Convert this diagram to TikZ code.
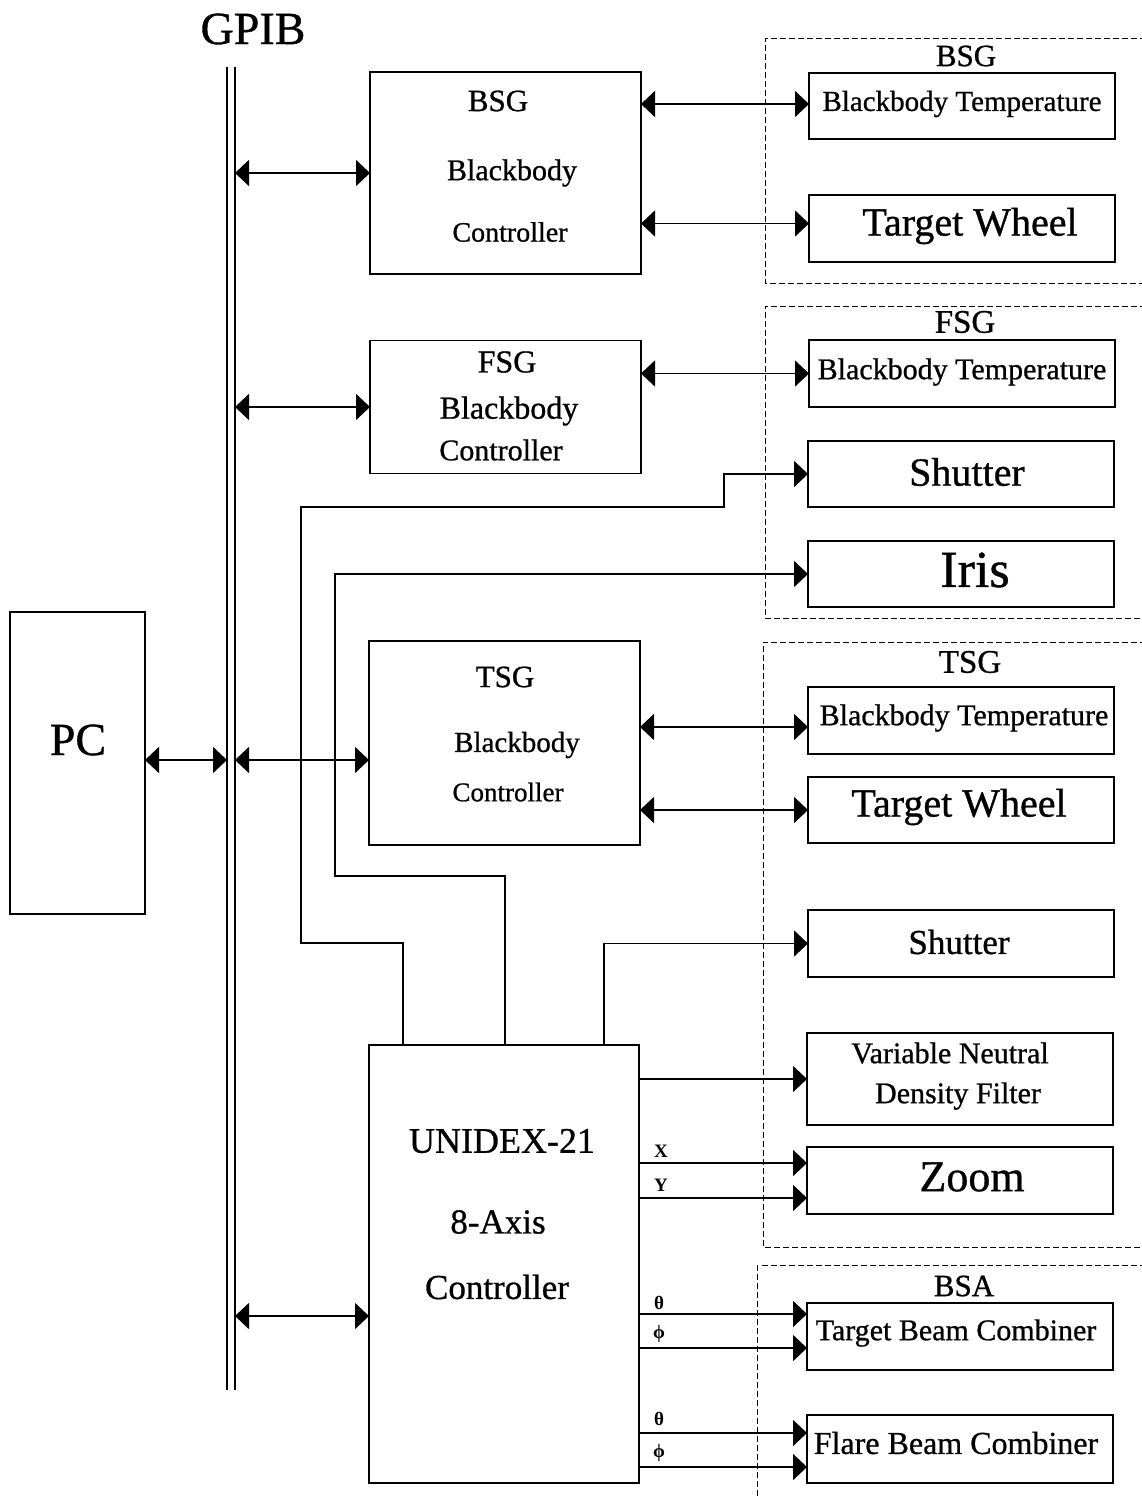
\documentclass[tikz,border=0pt]{standalone}
\usepackage{fontspec}
\setmainfont{Liberation Serif}[FakeBold=0.8]
\newfontfamily\lblfont{Liberation Serif Bold}
\usetikzlibrary{arrows.meta}
\begin{document}
\begin{tikzpicture}[x=1pt,y=-1pt,
  >={Triangle[length=14pt,width=26pt]},
  fsz/.style={font=\fontsize{#1}{#1}\selectfont},
  box/.style={draw,line width=1.4pt,inner sep=0pt,outer sep=0pt},
  conn/.style={line width=1.7pt},
  grp/.style={line width=1pt,dash pattern=on 6pt off 3pt},
  bus/.style={line width=1.2pt},
  sml/.style={font=\lblfont\fontsize{19}{19}\selectfont,inner sep=0pt}]
\useasboundingbox (0,0) rectangle (1142,1496);

% GPIB bus
\node[fsz=46] (gpib) at (253,29) {GPIB};
\coordinate (busL) at (227,67);
\coordinate (busR) at (235,67);
\coordinate (busLb) at (227,1390);
\coordinate (busRb) at (235,1390);
\draw[bus] (busL) -- (busLb);
\draw[bus] (busR) -- (busRb);

% PC
\node[box,minimum width=135pt,minimum height=302pt] (pc) at (77.5,763) {};
\node[fsz=46] (pclbl) at (78,740) {PC};

% controllers
\node[box,minimum width=271pt,minimum height=202pt] (bsgc) at (505.5,173) {};
\node[fsz=31] (bsgc1) at (498,101) {BSG};
\node[fsz=30] (bsgc2) at (512,173) {Blackbody};
\node[fsz=28] (bsgc3) at (510,232) {Controller};

\node[box,minimum width=271pt,minimum height=133pt] (fsgc) at (505.5,407) {};
\node[fsz=32] (fsgc1) at (507,362) {FSG};
\node[fsz=32] (fsgc2) at (509,411) {Blackbody};
\node[fsz=30] (fsgc3) at (501,450) {Controller};

\node[box,minimum width=271pt,minimum height=204pt] (tsgc) at (504.5,743) {};
\node[fsz=31] (tsgc1) at (505,677) {TSG};
\node[fsz=29] (tsgc2) at (517,745) {Blackbody};
\node[fsz=27] (tsgc3) at (508,792) {Controller};

\node[box,minimum width=270pt,minimum height=438pt] (unidex) at (504,1264) {};
\node[fsz=36] (un1) at (502,1141) {UNIDEX-21};
\node[fsz=35] (un2) at (498,1222) {8-Axis};
\node[fsz=35] (un3) at (497,1287) {Controller};

% dashed groups
\draw[grp] (1146,39) -| (765,283) -- (1146,283);
\node[fsz=31,inner sep=0pt] (gbsg) at (966,56) {BSG};
\draw[grp] (1146,306) -| (765,618) -- (1146,618);
\node[fsz=33,inner sep=0pt] (gfsg) at (965,322) {FSG};
\draw[grp] (1146,642) -| (763,1247) -- (1146,1247);
\node[fsz=33,inner sep=0pt] (gtsg) at (970,662) {TSG};
\draw[grp] (1146,1265) -- (762,1265);
\draw[grp] (757,1265) -- (757,1500);
\node[fsz=31,inner sep=0pt] (gbsa) at (964,1286) {BSA};

% right-hand boxes
\node[box,minimum width=306pt,minimum height=66pt] (bsgT) at (962,106) {};
\node[fsz=29] at (962,104) {Blackbody Temperature};
\node[box,minimum width=306pt,minimum height=67pt] (bsgW) at (962,228.5) {};
\node[fsz=40] at (970,226) {Target Wheel};

\node[box,minimum width=306pt,minimum height=67pt] (fsgT) at (962,373.5) {};
\node[fsz=30] at (962,372) {Blackbody Temperature};
\node[box,minimum width=306pt,minimum height=66pt] (fsgS) at (961,474) {};
\node[fsz=40] at (967,472) {Shutter};
\node[box,minimum width=306pt,minimum height=66pt] (fsgI) at (961,574) {};
\node[fsz=52] at (975,570) {Iris};

\node[box,minimum width=306pt,minimum height=67pt] (tsgT) at (961,720.5) {};
\node[fsz=30] at (964,718) {Blackbody Temperature};
\node[box,minimum width=306pt,minimum height=66pt] (tsgW) at (961,810) {};
\node[fsz=40] at (959,807) {Target Wheel};
\node[box,minimum width=306pt,minimum height=67pt] (tsgS) at (961,943.5) {};
\node[fsz=35] at (959,942) {Shutter};
\node[box,minimum width=306pt,minimum height=92pt] (vndf) at (960,1079) {};
\node[fsz=30] at (950,1053) {Variable Neutral};
\node[fsz=30] at (958,1096) {Density Filter};
\node[box,minimum width=306pt,minimum height=67pt] (zoom) at (960,1180.5) {};
\node[fsz=44] at (972,1177) {Zoom};
\node[box,minimum width=306pt,minimum height=67pt] (tbc) at (960,1336.5) {};
\node[fsz=30] at (956,1333) {Target Beam Combiner};
\node[box,minimum width=306pt,minimum height=68pt] (fbc) at (960,1449) {};
\node[fsz=32] at (956,1443) {Flare Beam Combiner};

% bus connections
\coordinate (pcout) at ([yshift=3pt]pc.east);
\draw[conn,<->] (pcout) -- (pcout -| busL);
\draw[conn,<->] (bsgc.west -| busR) -- (bsgc.west);
\draw[conn,<->] (fsgc.west -| busR) -- (fsgc.west);
\coordinate (tsgin) at ([yshift=-17pt]tsgc.west);
\draw[conn,<->] (tsgin -| busR) -- (tsgin);
\coordinate (unin) at ([yshift=-52pt]unidex.west);
\draw[conn,<->] (unin -| busR) -- (unin);

% controller to devices
\coordinate (b1) at ([yshift=2pt]bsgT.west);
\draw[conn,<->] (b1 -| bsgc.east) -- (b1);
\coordinate (b2) at ([yshift=5pt]bsgW.west);
\draw[conn,<->] (b2 -| bsgc.east) -- (b2);
\draw[conn,<->] (fsgT.west -| fsgc.east) -- (fsgT.west);
\coordinate (t1) at ([yshift=-6.5pt]tsgT.west);
\draw[conn,<->] (t1 -| tsgc.east) -- (t1);
\draw[conn,<->] (tsgW.west -| tsgc.east) -- (tsgW.west);

% UNIDEX outputs
\draw[conn,->] ([xshift=-101pt]unidex.north) |- (301,943) |- (724,507) |- (fsgS.west);
\draw[conn,->] ([xshift=1pt]unidex.north) |- (335,876) |- (fsgI.west);
\draw[conn,->] ([xshift=100pt]unidex.north) |- (tsgS.west);
\draw[conn,->] (vndf.west -| unidex.east) -- (vndf.west);
\coordinate (zx) at ([yshift=17.5pt]zoom.west);
\coordinate (zy) at ([yshift=-17.5pt]zoom.west);
\draw[conn,->] (zx -| unidex.east) -- (zx);
\draw[conn,->] (zy -| unidex.east) -- (zy);
\coordinate (tt) at ([yshift=22.5pt]tbc.west);
\coordinate (tp) at ([yshift=-11.5pt]tbc.west);
\draw[conn,->] (tt -| unidex.east) -- (tt);
\draw[conn,->] (tp -| unidex.east) -- (tp);
\coordinate (ft) at ([yshift=16pt]fbc.west);
\coordinate (fp) at ([yshift=-18pt]fbc.west);
\draw[conn,->] (ft -| unidex.east) -- (ft);
\draw[conn,->] (fp -| unidex.east) -- (fp);

% axis labels
\node[sml] (lx) at (661,1151) {X};
\node[sml] (ly) at (661,1185) {Y};
\node[sml] (lt1) at (659,1303) {θ};
\node[sml] (lp1) at (659,1334) {ϕ};
\node[sml] (lt2) at (659,1419) {θ};
\node[sml] (lp2) at (659,1453) {ϕ};
\end{tikzpicture}
\end{document}
